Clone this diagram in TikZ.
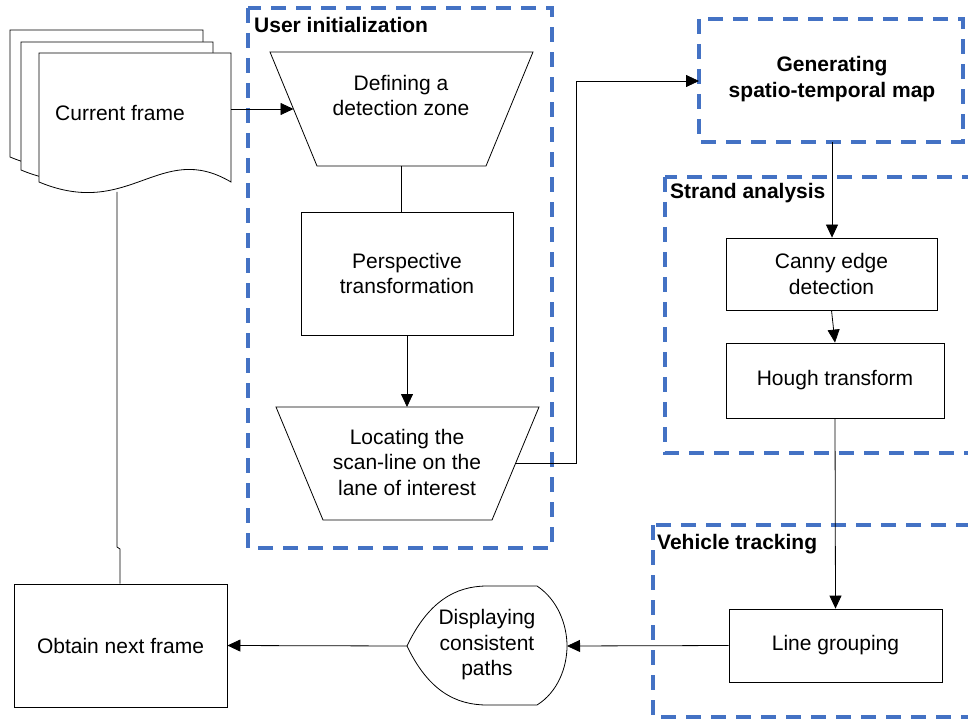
\documentclass[tikz,border=0pt]{standalone}
\usepackage{fontspec}
\setmainfont{Liberation Sans}
\usetikzlibrary{arrows.meta}
\definecolor{groupblue}{RGB}{68,114,196}
\begin{document}
\begin{tikzpicture}[x=1pt,y=-1pt,
  shp/.style={draw=black, line width=0.8pt, fill=white},
  grp/.style={draw=groupblue, line width=3.2pt, dash pattern=on 15pt off 10pt},
  txt/.style={font=\fontsize{21}{25.5}\selectfont, align=center, inner sep=0pt},
  lbl/.style={font=\fontsize{21}{25}\selectfont\bfseries, anchor=west, inner sep=0pt},
  boxnode/.style={shp, txt, align=center},
  con/.style={draw=black, line width=0.8pt},
  arr/.style={con, -{Triangle[length=13pt,width=12pt]}}]
\useasboundingbox (0,0) rectangle (968,719);
\clip (0,0) rectangle (968,719);

% ---------- group frames ----------
\draw[grp] (248,8) rectangle (552,548);
\node[lbl] (ulbl) at (254,25) {User initialization};
\draw[grp] (665,177) rectangle (995,453);
\node[lbl] (slbl) at (670,193) {Strand analysis};
\draw[grp] (653,525) rectangle (995,717);
\node[lbl] (vlbl) at (657,544) {Vehicle tracking};

% ---------- current frame (multi-document) ----------
\draw[shp] (10,30) -- (203,30) -- (203,157) .. controls (131,115) and (101,195) .. (10,157) -- cycle;
\draw[shp] (21,42) -- (213,42) -- (213,170) .. controls (142,128) and (112,208) .. (21,170) -- cycle;
\draw[shp] (39,53) -- (231,53) -- (231,182) .. controls (160,140) and (130,220) .. (39,182) -- cycle;
\node[txt] (cf) at (120,113) {Current frame};
\coordinate (cfR) at (231,109);
\coordinate (cfB) at (117,192);

% ---------- trapezoid 1 ----------
\draw[shp] (270,52) -- (533,52) -- (486,166) -- (317,166) -- cycle;
\node[txt] (def) at (401,95.5) {Defining a\\detection zone};
\coordinate (t1L) at (293.5,109);
\coordinate (t1B) at (401,166);

% ---------- perspective ----------
\node[boxnode, minimum width=212pt, minimum height=123pt] (persp) at (407,273.5) {Perspective\\transformation};

% ---------- trapezoid 2 ----------
\draw[shp] (276,407) -- (539,407) -- (492,520) -- (323,520) -- cycle;
\node[txt] (loc) at (407,462) {Locating the\\scan-line on the\\lane of interest};
\coordinate (t2T) at (407,407);
\coordinate (t2R) at (516,463);

% ---------- generating ----------
\draw[grp] (699,19) rectangle (963,142);
\node[txt, font=\fontsize{21}{26}\selectfont\bfseries] (gen) at (832,79) {Generating\\spatio-temporal map};
\coordinate (genL) at (699,81);
\coordinate (genB) at (832,142);

% ---------- strand analysis boxes ----------
\node[boxnode, minimum width=211pt, minimum height=72pt] (canny) at (831.5,274) {Canny edge\\detection};
\node[boxnode, minimum width=218pt, minimum height=75pt] (hough) at (835,380.5) {Hough transform};

% ---------- vehicle tracking ----------
\node[boxnode, minimum width=213pt, minimum height=73pt] (lg) at (835.5,645.5) {Line grouping};

% ---------- display shape ----------
\draw[shp] (407,646) .. controls (428,602) and (455,586) .. (487,586) -- (537,586)
  .. controls (558,600) and (567,625) .. (567,646)
  .. controls (567,667) and (558,692) .. (537,705) -- (487,705)
  .. controls (455,705) and (428,690) .. (407,646) -- cycle;
\node[txt] (disp) at (487,645) {Displaying\\consistent\\paths};
\coordinate (dispR) at (567,646);
\coordinate (dispL) at (407,646);

% ---------- obtain next frame ----------
\node[boxnode, minimum width=213pt, minimum height=123pt] (obt) at (120.5,645.5) {Obtain next frame};

% ---------- connectors ----------
\draw[arr] (cfR) -- (t1L);
\draw[con] (t1B) -- (persp.north -| t1B);
\draw[arr] (persp.south) -- (t2T);
\draw[arr] (t2R) -- ++(60,0) |- (genL);
\draw[arr] (genB) -- (canny.north -| genB);
\draw[arr] (canny.south) -- (hough.north);
\draw[arr] (hough.south) -- (lg.north);
\draw[arr] (lg.west) -- (dispR);
\draw[arr] (dispL) -- (obt.east);
\draw[con] (cfB) -- (117,547) -- (120,549) -- (obt.north -| 120,549);
\end{tikzpicture}
\end{document}
